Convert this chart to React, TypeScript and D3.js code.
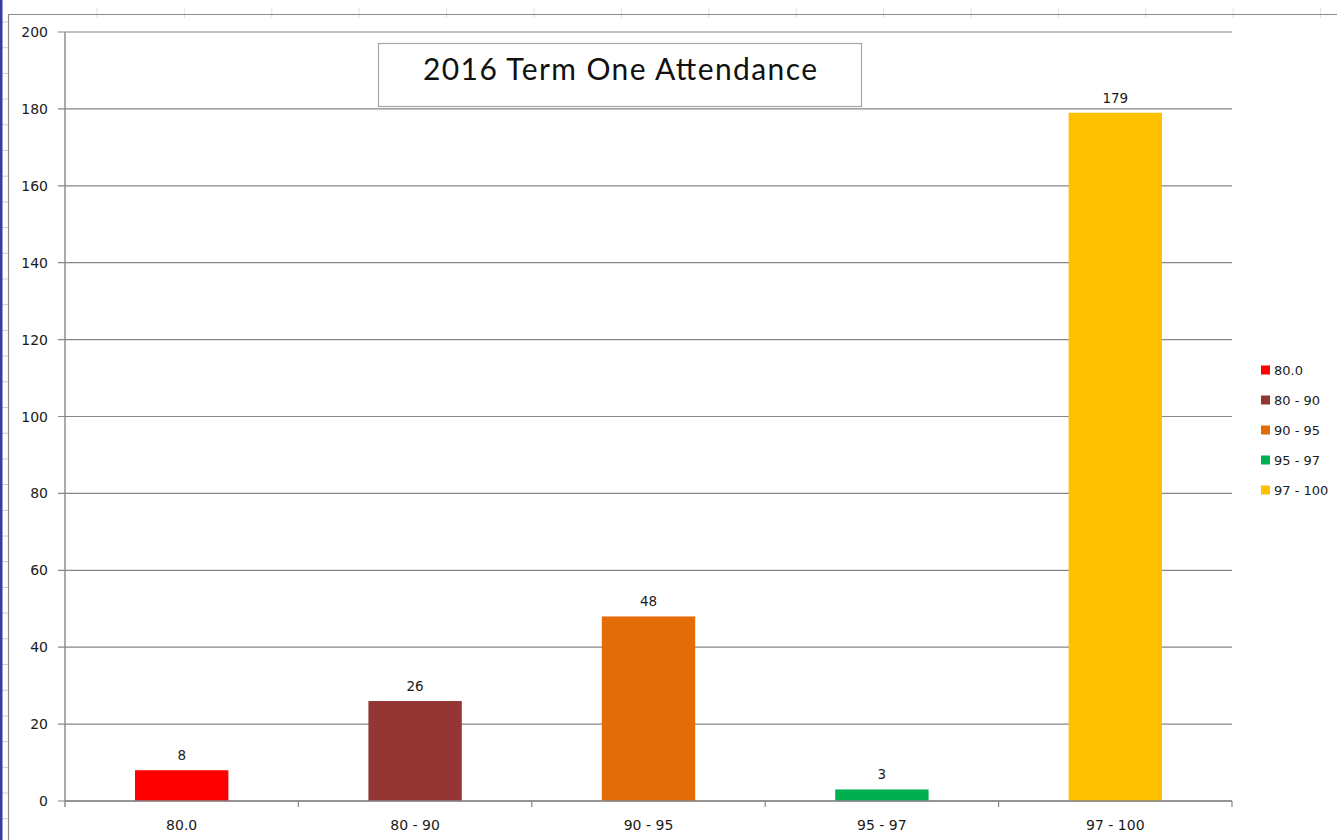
import React from "react";
import * as d3 from "d3";

const categories = ["80.0", "80 - 90", "90 - 95", "95 - 97", "97 - 100"];
const values = [8, 26, 48, 3, 179];
const colors = ["#ff0000", "#943634", "#e36c09", "#00b050", "#ffc000"];
const yTicks = [0, 20, 40, 60, 80, 100, 120, 140, 160, 180, 200];
const title = "2016 Term One Attendance";

const W = 1337;
const H = 840;
const plot = { left: 65, right: 1232, top: 32, bottom: 801 };

export default function App() {
  const x = d3
    .scaleBand<string>()
    .domain(categories)
    .range([plot.left, plot.right])
    .paddingInner(0.6)
    .paddingOuter(0.3);
  const xb = d3.scaleBand<string>().domain(categories).range([plot.left, plot.right]);
  const y = d3.scaleLinear().domain([0, 200]).range([plot.bottom, plot.top]);

  const font = "'DejaVu Sans', Verdana, sans-serif";
  const gridColor = "#868686";

  const sheetCols = d3.range(97, W, 87.4);
  const sheetRows = d3.range(22, H, 25.7);

  return (
    <svg
      width={W}
      height={H}
      style={{ position: "fixed", left: 0, top: 0, background: "#fff" }}
      fontFamily={font}
    >
      <rect x={0} y={0} width={W} height={H} fill="#fff" />
      {/* spreadsheet backdrop */}
      {sheetCols.map((c, i) => (
        <line key={"sc" + i} x1={c} x2={c} y1={8} y2={18} stroke="#e2e2e2" strokeWidth={1} />
      ))}
      {sheetRows.map((r, i) => (
        <line key={"sr" + i} x1={2} x2={8} y1={r} y2={r} stroke="#d0d0dc" strokeWidth={1} />
      ))}
      <rect x={0} y={0} width={2.5} height={H} fill="#3a3aa6" />
      {/* chart outer border */}
      <line x1={8} x2={W} y1={14.5} y2={14.5} stroke="#8c8c8c" strokeWidth={1.2} />
      <line x1={8.5} x2={8.5} y1={14} y2={H} stroke="#8c8c8c" strokeWidth={1.2} />

      {/* gridlines */}
      {yTicks.map((t) => (
        <line
          key={"g" + t}
          x1={plot.left - 7}
          x2={plot.right}
          y1={y(t)}
          y2={y(t)}
          stroke={gridColor}
          strokeWidth={1.2}
        />
      ))}
      {yTicks.map((t) => (
        <text
          key={"yl" + t}
          x={48}
          y={y(t)}
          dy="0.36em"
          textAnchor="end"
          fontSize={14}
          fill="#1a1a1a"
        >
          {t}
        </text>
      ))}
      {/* axes */}
      <line x1={plot.left} x2={plot.left} y1={plot.top} y2={plot.bottom + 6} stroke={gridColor} strokeWidth={1.4} />
      {categories.map((c) => (
        <line
          key={"xt" + c}
          x1={(xb(c) as number) + xb.bandwidth()}
          x2={(xb(c) as number) + xb.bandwidth()}
          y1={plot.bottom}
          y2={plot.bottom + 6}
          stroke={gridColor}
          strokeWidth={1.2}
        />
      ))}

      {/* bars */}
      {categories.map((c, i) => (
        <rect
          key={"b" + c}
          x={x(c)}
          y={y(values[i])}
          width={x.bandwidth()}
          height={y(0) - y(values[i])}
          fill={colors[i]}
        />
      ))}
      <line x1={plot.left} x2={plot.right} y1={plot.bottom} y2={plot.bottom} stroke={gridColor} strokeWidth={1.4} />

      {/* value labels */}
      {categories.map((c, i) => (
        <text
          key={"v" + c}
          x={(x(c) as number) + x.bandwidth() / 2}
          y={y(values[i]) - 10}
          textAnchor="middle"
          fontSize={13.5}
          fill="#1a1a1a"
        >
          {values[i]}
        </text>
      ))}
      {/* category labels */}
      {categories.map((c) => (
        <text
          key={"xl" + c}
          x={(xb(c) as number) + xb.bandwidth() / 2}
          y={830}
          textAnchor="middle"
          fontSize={14}
          fill="#1a1a1a"
        >
          {c}
        </text>
      ))}

      {/* title box */}
      <rect x={378.5} y={43.5} width={483} height={63} fill="#fff" stroke="#a6a6a6" strokeWidth={1.2} />
      <text
        x={620}
        y={80}
        textAnchor="middle"
        fontFamily="Lato, 'Open Sans', sans-serif"
        fontSize={30}
        fill="#111"
        textLength={394}
        lengthAdjust="spacing"
      >
        {title}
      </text>

      {/* legend */}
      {categories.map((c, i) => (
        <g key={"lg" + c} transform={`translate(1261, ${370 + i * 30})`}>
          <rect x={0} y={-4.5} width={9} height={9} fill={colors[i]} />
          <text x={13} y={0} dy="0.36em" fontSize={13} fill="#1a1a1a">
            {c}
          </text>
        </g>
      ))}
    </svg>
  );
}
